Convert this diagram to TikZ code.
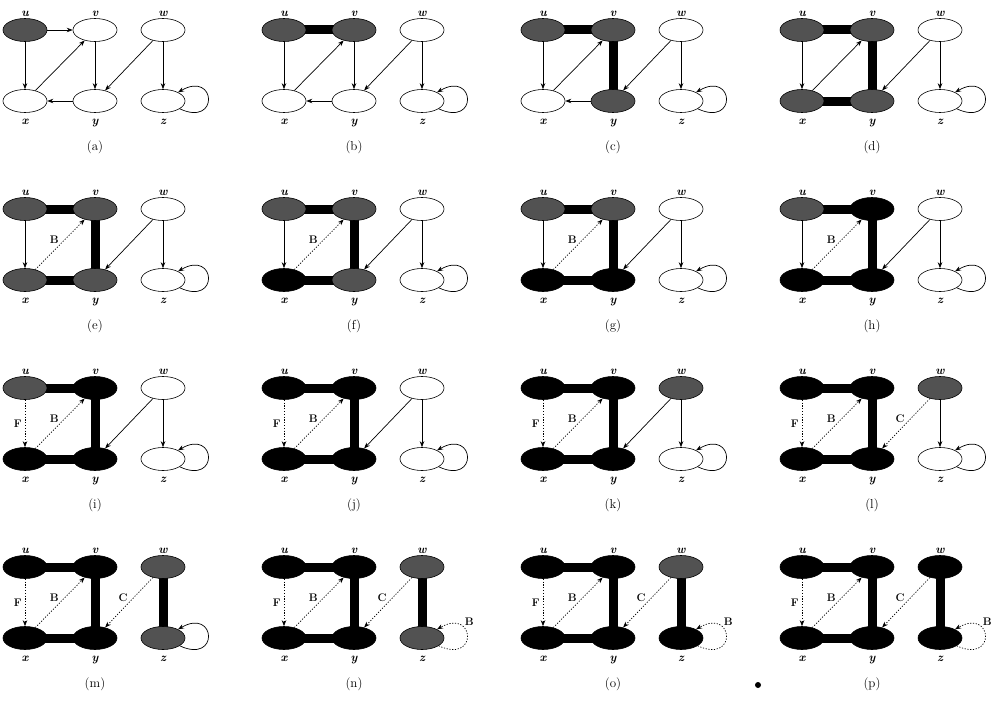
\documentclass[tikz,border=0pt]{standalone}
\usepackage{tikz}
\usetikzlibrary{shapes,arrows.meta,positioning}

\pgfdeclarelayer{paper}
\pgfdeclarelayer{bg}
\pgfsetlayers{paper,bg,main}

\tikzset{
  vtx/.style={ellipse, draw=black, line width=0.6pt, minimum width=44pt, minimum height=23pt, inner sep=0pt},
  wnode/.style={fill=white},
  gnode/.style={fill=black!68},
  bnode/.style={fill=black},
  vlab/.style={font=\fontsize{12}{14}\selectfont\bfseries\itshape, inner sep=1pt},
  elab/.style={font=\fontsize{11}{13}\selectfont\bfseries, inner sep=1pt},
  caplab/.style={font=\fontsize{13}{15}\selectfont},
  treeedge/.style={line width=9pt, black},
  plainedge/.style={draw, -{Stealth[length=6pt,width=4.5pt]}, line width=0.7pt},
  dots/.style={dash pattern=on 1.2pt off 1.6pt},
  backedge/.style={plainedge, dots, edge node={node[elab,pos=.5,above left=0pt]{B}}},
  fwdedge/.style={plainedge, dots, edge node={node[elab,pos=.5,left=2pt]{F}}},
  crossedge/.style={plainedge, dots, edge node={node[elab,pos=.5,above left=0pt]{C}}},
  zloop/.style={out=-25, in=30, distance=44pt},
  zplain/.style={plainedge, zloop},
  zback/.style={plainedge, dots, zloop, edge node={node[elab,pos=.68,above right=1pt]{B}}},
}

% one panel: caption letter, then fills of u v w x y z
\newcommand{\dfsnodes}[7]{%
  \node[vtx,#2node,label={[vlab]above:u}] (u) at (0,0) {};
  \node[vtx,#3node,label={[vlab]above:v}] (v) at (70,0) {};
  \node[vtx,#4node,label={[vlab]above:w}] (w) at (138,0) {};
  \node[vtx,#5node,label={[vlab,label distance=5pt]below:x}] (x) at (0,71) {};
  \node[vtx,#6node,label={[vlab,label distance=5pt]below:y}] (y) at (70,71) {};
  \node[vtx,#7node,label={[vlab,label distance=5pt]below:z}] (z) at (138,71) {};
  \node[caplab] (cap) at (70,117) {(#1)};
}
\newcommand{\dfstree}[1]{%
  \begin{pgfonlayer}{bg}
    \foreach \a/\b in {#1} \draw[treeedge] (\a.center) -- (\b.center);
  \end{pgfonlayer}
}
\newcommand{\dfsedges}[1]{%
  \foreach \a/\b/\s in {#1} \path (\a) edge[\s] (\b);
}

\begin{document}
\begin{tikzpicture}[x=1pt,y=-1pt]
\begin{pgfonlayer}{paper}
  \fill[white] (0,0) rectangle (993,701);
\end{pgfonlayer}
\useasboundingbox (0,0) rectangle (993,701);

% row 1
\begin{scope}[shift={(25,30)}]
  \dfsnodes{a}{g}{w}{w}{w}{w}{w}
  \dfsedges{u/v/plainedge,u/x/plainedge,x/v/plainedge,v/y/plainedge,y/x/plainedge,w/y/plainedge,w/z/plainedge,z/z/zplain}
\end{scope}
\begin{scope}[shift={(284,30)}]
  \dfsnodes{b}{g}{g}{w}{w}{w}{w}
  \dfstree{u/v}
  \dfsedges{u/x/plainedge,x/v/plainedge,v/y/plainedge,y/x/plainedge,w/y/plainedge,w/z/plainedge,z/z/zplain}
\end{scope}
\begin{scope}[shift={(543,30)}]
  \dfsnodes{c}{g}{g}{w}{w}{g}{w}
  \dfstree{u/v,v/y}
  \dfsedges{u/x/plainedge,x/v/plainedge,y/x/plainedge,w/y/plainedge,w/z/plainedge,z/z/zplain}
\end{scope}
\begin{scope}[shift={(802,30)}]
  \dfsnodes{d}{g}{g}{w}{g}{g}{w}
  \dfstree{u/v,v/y,y/x}
  \dfsedges{u/x/plainedge,x/v/plainedge,w/y/plainedge,w/z/plainedge,z/z/zplain}
\end{scope}

% row 2
\begin{scope}[shift={(25,209)}]
  \dfsnodes{e}{g}{g}{w}{g}{g}{w}
  \dfstree{u/v,v/y,y/x}
  \dfsedges{u/x/plainedge,x/v/backedge,w/y/plainedge,w/z/plainedge,z/z/zplain}
\end{scope}
\begin{scope}[shift={(284,209)}]
  \dfsnodes{f}{g}{g}{w}{b}{g}{w}
  \dfstree{u/v,v/y,y/x}
  \dfsedges{u/x/plainedge,x/v/backedge,w/y/plainedge,w/z/plainedge,z/z/zplain}
\end{scope}
\begin{scope}[shift={(543,209)}]
  \dfsnodes{g}{g}{g}{w}{b}{b}{w}
  \dfstree{u/v,v/y,y/x}
  \dfsedges{u/x/plainedge,x/v/backedge,w/y/plainedge,w/z/plainedge,z/z/zplain}
\end{scope}
\begin{scope}[shift={(802,209)}]
  \dfsnodes{h}{g}{b}{w}{b}{b}{w}
  \dfstree{u/v,v/y,y/x}
  \dfsedges{u/x/plainedge,x/v/backedge,w/y/plainedge,w/z/plainedge,z/z/zplain}
\end{scope}

% row 3
\begin{scope}[shift={(25,388)}]
  \dfsnodes{i}{g}{b}{w}{b}{b}{w}
  \dfstree{u/v,v/y,y/x}
  \dfsedges{u/x/fwdedge,x/v/backedge,w/y/plainedge,w/z/plainedge,z/z/zplain}
\end{scope}
\begin{scope}[shift={(284,388)}]
  \dfsnodes{j}{b}{b}{w}{b}{b}{w}
  \dfstree{u/v,v/y,y/x}
  \dfsedges{u/x/fwdedge,x/v/backedge,w/y/plainedge,w/z/plainedge,z/z/zplain}
\end{scope}
\begin{scope}[shift={(543,388)}]
  \dfsnodes{k}{b}{b}{g}{b}{b}{w}
  \dfstree{u/v,v/y,y/x}
  \dfsedges{u/x/fwdedge,x/v/backedge,w/y/plainedge,w/z/plainedge,z/z/zplain}
\end{scope}
\begin{scope}[shift={(802,388)}]
  \dfsnodes{l}{b}{b}{g}{b}{b}{w}
  \dfstree{u/v,v/y,y/x}
  \dfsedges{u/x/fwdedge,x/v/backedge,w/y/crossedge,w/z/plainedge,z/z/zplain}
\end{scope}

% row 4
\begin{scope}[shift={(25,567)}]
  \dfsnodes{m}{b}{b}{g}{b}{b}{g}
  \dfstree{u/v,v/y,y/x,w/z}
  \dfsedges{u/x/fwdedge,x/v/backedge,w/y/crossedge,z/z/zplain}
\end{scope}
\begin{scope}[shift={(284,567)}]
  \dfsnodes{n}{b}{b}{g}{b}{b}{g}
  \dfstree{u/v,v/y,y/x,w/z}
  \dfsedges{u/x/fwdedge,x/v/backedge,w/y/crossedge,z/z/zback}
\end{scope}
\begin{scope}[shift={(543,567)}]
  \dfsnodes{o}{b}{b}{g}{b}{b}{b}
  \dfstree{u/v,v/y,y/x,w/z}
  \dfsedges{u/x/fwdedge,x/v/backedge,w/y/crossedge,z/z/zback}
\end{scope}
\begin{scope}[shift={(802,567)}]
  \dfsnodes{p}{b}{b}{b}{b}{b}{b}
  \dfstree{u/v,v/y,y/x,w/z}
  \dfsedges{u/x/fwdedge,x/v/backedge,w/y/crossedge,z/z/zback}
\end{scope}

% speck left of (p)
\fill (758,685) circle (3pt);
\end{tikzpicture}
\end{document}
